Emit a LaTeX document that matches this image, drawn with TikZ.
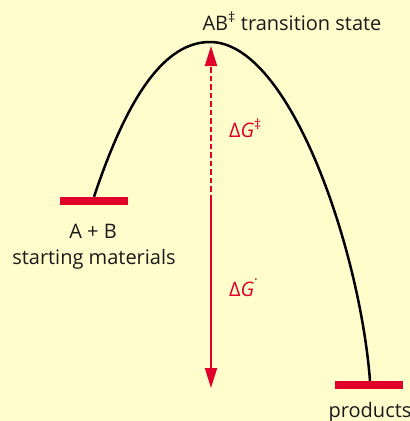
\documentclass[tikz,border=0pt]{standalone}
\usepackage{fontspec}
\setmainfont{Open Sans}
\usetikzlibrary{arrows.meta}
\definecolor{bgyellow}{HTML}{FFFDCC}
\definecolor{barred}{HTML}{E0002A}
\definecolor{txt}{HTML}{1A1A1A}
\begin{document}
\begin{tikzpicture}[x=1pt,y=-1pt,
  level/.style={fill=barred,draw=none,minimum width=68pt,minimum height=8pt,inner sep=0pt},
  lbl/.style={text=txt,font=\fontsize{20}{23}\selectfont,inner sep=0pt,align=center},
  dg/.style={text=barred,font=\fontsize{20}{23}\selectfont,inner sep=0pt,anchor=base west},
  energy/.style={draw=barred,line width=2pt},
  tip/.style={-{Triangle[length=20pt,width=12pt]}}
]
\fill[bgyellow] (0,0) rectangle (410,421);
\useasboundingbox (0,0) rectangle (410,421);
% levels
\node[level] (start) at (94,201) {};
\node[level] (prod) at (369,385) {};
\coordinate (peak) at (210,42);
% reaction curve
\draw[line width=2.5pt,black] (start.north) .. controls (128,95) and (165,42) .. (peak)
  .. controls (290,42) and (360,250) .. (prod.north -| 370,0);
% labels
\node[lbl,anchor=base] (ts) at (292,30) {AB\textsuperscript{‡} transition state};
\node[lbl,anchor=base] (ab) at (93,238) {A + B};
\node[lbl,anchor=base] (sm) at (94,264) {starting materials};
\node[lbl,anchor=base] (pr) at (370,417) {products};
% energy arrows
\coordinate (mid) at (211,200);
\coordinate (toptip) at (211,46);
\coordinate (bottip) at (211,388);
\draw[energy,tip,dash pattern=on 5.5pt off 3pt] (mid) -- (toptip);
\draw[energy,tip] (mid) -- (bottip);
\node[dg] (dga) at (229,137) {Δ\textit{G}\textsuperscript{‡}};
\node[dg] (dgb) at (229,296) {Δ\textit{G}\textsuperscript{\raisebox{0.5ex}{·}}};
\end{tikzpicture}
\end{document}
